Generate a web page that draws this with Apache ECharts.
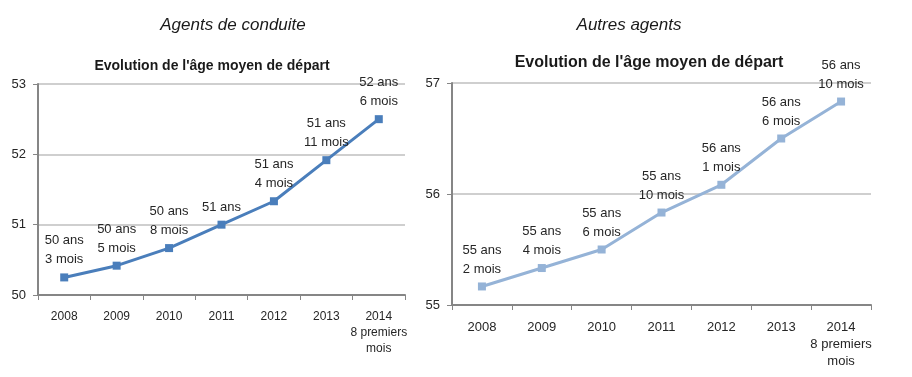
<!DOCTYPE html>
<html>
<head>
<meta charset="utf-8">
<script src="https://cdn.jsdelivr.net/npm/echarts@6/dist/echarts.min.js"></script>
<style>
  html, body { margin: 0; padding: 0; background: #fff; }
  #chart { width: 912px; height: 377px; }
</style>
</head>
<body>
<div id="chart"></div>
<script>
// categories
let years = ['2008', '2009', '2010', '2011', '2012', '2013', '2014\n8 premiers\nmois'];

// age moyen (en années) - agents de conduite
let conduiteValues = [50.25, 50.417, 50.667, 51.0, 51.333, 51.917, 52.5];
let conduiteLabels = ['50 ans\n3 mois', '50 ans\n5 mois', '50 ans\n8 mois', '51 ans',
    '51 ans\n4 mois', '51 ans\n11 mois', '52 ans\n6 mois'];

// age moyen - autres agents
let autresValues = [55.167, 55.333, 55.5, 55.833, 56.083, 56.5, 56.833];
let autresLabels = ['55 ans\n2 mois', '55 ans\n4 mois', '55 ans\n6 mois', '55 ans\n10 mois',
    '56 ans\n1 mois', '56 ans\n6 mois', '56 ans\n10 mois'];

let conduiteTicks = [50, 53];
let autresTicks = [55, 57];

let font = 'Liberation Sans, Arial, sans-serif';
let txt = '#262626';

let makeX = (gridIndex, size) => ({
    type: 'category',
    gridIndex: gridIndex,
    data: years,
    boundaryGap: true,
    axisLine: { lineStyle: { color: '#868686', width: 2 } },
    axisTick: { show: true, interval: 0, length: 5, lineStyle: { color: '#868686' } },
    axisLabel: { interval: 0, color: txt, fontFamily: font, fontSize: size, margin: 14, lineHeight: size + 4 }
});

let makeY = (gridIndex, ticks, size) => ({
    type: 'value',
    gridIndex: gridIndex,
    min: ticks[0],
    max: ticks[1],
    interval: 1,
    axisLine: { show: true, lineStyle: { color: '#868686', width: 2 } },
    axisTick: { show: true, length: 5, lineStyle: { color: '#868686' } },
    axisLabel: { color: txt, fontFamily: font, fontSize: size, margin: 12 },
    splitLine: { lineStyle: { color: '#bfbfbf', width: 1.5 } }
});

let makeSeries = (idx, values, labels, color, size) => ({
    type: 'line',
    xAxisIndex: idx,
    yAxisIndex: idx,
    data: values,
    symbol: 'rect',
    symbolSize: 8,
    lineStyle: { color: color, width: 3 },
    itemStyle: { color: color },
    label: {
        show: true,
        position: 'top',
        distance: 4,
        color: txt,
        fontFamily: font,
        fontSize: size,
        lineHeight: size + 6,
        formatter: p => labels[p.dataIndex]
    },
    animation: false
});

let option = {
    animation: false,
    title: [
        { text: 'Agents de conduite', left: 228, top: 12, textAlign: 'center',
          textStyle: { fontFamily: font, fontStyle: 'italic', fontWeight: 'normal', fontSize: 17, color: '#1a1a1a' } },
        { text: "Evolution de l'âge moyen de départ", left: 207, top: 54, textAlign: 'center',
          textStyle: { fontFamily: font, fontWeight: 'bold', fontSize: 14, color: '#1a1a1a' } },
        { text: 'Autres agents', left: 624, top: 12, textAlign: 'center',
          textStyle: { fontFamily: font, fontStyle: 'italic', fontWeight: 'normal', fontSize: 17, color: '#1a1a1a' } },
        { text: "Evolution de l'âge moyen de départ", left: 644, top: 50, textAlign: 'center',
          textStyle: { fontFamily: font, fontWeight: 'bold', fontSize: 16, color: '#1a1a1a' } }
    ],
    grid: [
        { left: 38, right: 507, top: 84, bottom: 82 },
        { left: 452, right: 41, top: 83, bottom: 72 }
    ],
    xAxis: [makeX(0, 12), makeX(1, 13)],
    yAxis: [makeY(0, conduiteTicks, 13), makeY(1, autresTicks, 13)],
    series: [
        makeSeries(0, conduiteValues, conduiteLabels, '#4a7ebb', 13),
        makeSeries(1, autresValues, autresLabels, '#95b3d7', 13)
    ]
};

let myChart = echarts.init(document.getElementById('chart'), null, { renderer: 'canvas' });
myChart.setOption(option);
</script>
</body>
</html>
